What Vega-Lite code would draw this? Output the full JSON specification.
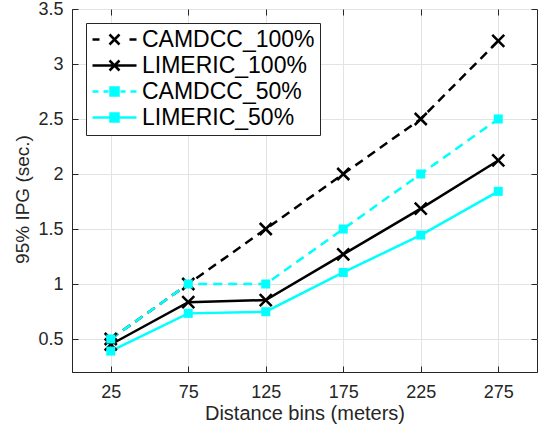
{
  "$schema": "https://vega.github.io/schema/vega-lite/v6.json",
  "width": 465,
  "height": 363,
  "autosize": "none",
  "padding": {"left": 72, "top": 9, "right": 2, "bottom": 59},
  "background": "white",
  "config": {
    "font": "Liberation Sans",
    "view": {"stroke": "#262626", "strokeWidth": 1},
    "axis": {
      "labelFont": "Liberation Sans",
      "titleFont": "Liberation Sans",
      "labelColor": "#262626",
      "titleColor": "#262626",
      "titleFontWeight": "normal",
      "domainColor": "#262626",
      "tickColor": "#262626",
      "gridColor": "#e3e3e3",
      "gridWidth": 1,
      "labelFontSize": 18,
      "titleFontSize": 19
    }
  },
  "data": {
    "values": [
      {"series": "CAMDCC_100%", "d": 25, "v": 0.5},
      {"series": "CAMDCC_100%", "d": 75, "v": 1.0},
      {"series": "CAMDCC_100%", "d": 125, "v": 1.5},
      {"series": "CAMDCC_100%", "d": 175, "v": 2.0},
      {"series": "CAMDCC_100%", "d": 225, "v": 2.5},
      {"series": "CAMDCC_100%", "d": 275, "v": 3.21},
      {"series": "LIMERIC_100%", "d": 25, "v": 0.45},
      {"series": "LIMERIC_100%", "d": 75, "v": 0.835},
      {"series": "LIMERIC_100%", "d": 125, "v": 0.854},
      {"series": "LIMERIC_100%", "d": 175, "v": 1.27},
      {"series": "LIMERIC_100%", "d": 225, "v": 1.685},
      {"series": "LIMERIC_100%", "d": 275, "v": 2.123},
      {"series": "CAMDCC_50%", "d": 25, "v": 0.5},
      {"series": "CAMDCC_50%", "d": 75, "v": 1.0},
      {"series": "CAMDCC_50%", "d": 125, "v": 1.0},
      {"series": "CAMDCC_50%", "d": 175, "v": 1.5},
      {"series": "CAMDCC_50%", "d": 225, "v": 2.0},
      {"series": "CAMDCC_50%", "d": 275, "v": 2.5},
      {"series": "LIMERIC_50%", "d": 25, "v": 0.39},
      {"series": "LIMERIC_50%", "d": 75, "v": 0.733},
      {"series": "LIMERIC_50%", "d": 125, "v": 0.748},
      {"series": "LIMERIC_50%", "d": 175, "v": 1.105},
      {"series": "LIMERIC_50%", "d": 225, "v": 1.445},
      {"series": "LIMERIC_50%", "d": 275, "v": 1.842}
    ]
  },
  "resolve": {"axis": {"x": "independent", "y": "independent"}},
  "layer": [
    {
      "transform": [{"filter": "indexof(datum.series, 'LIMERIC') >= 0"}],
      "mark": {"type": "line", "strokeWidth": 2.5, "strokeCap": "butt"},
      "encoding": {
        "x": {
          "field": "d", "type": "quantitative",
          "scale": {"domain": [0, 300], "nice": false, "zero": false},
          "axis": {
            "values": [25, 75, 125, 175, 225, 275],
            "title": "Distance bins (meters)",
            "titleFontSize": 20,
            "tickSize": -6,
            "labelPadding": 17,
            "titleY": 47,
            "titleBaseline": "alphabetic"
          }
        },
        "y": {
          "field": "v", "type": "quantitative",
          "scale": {"domain": [0.2, 3.5], "nice": false, "zero": false},
          "axis": {
            "values": [0.5, 1, 1.5, 2, 2.5, 3, 3.5],
            "format": "~g",
            "title": "95% IPG (sec.)",
            "tickSize": -6,
            "labelPadding": 15,
            "titleX": -44,
            "titleY": 190,
            "titleBaseline": "alphabetic"
          }
        },
        "color": {
          "field": "series", "type": "nominal",
          "scale": {
            "domain": ["CAMDCC_100%", "LIMERIC_100%", "CAMDCC_50%", "LIMERIC_50%"],
            "range": ["#000000", "#000000", "#00FFFF", "#00FFFF"]
          },
          "legend": {
            "title": null,
            "orient": "none",
            "legendX": 14,
            "legendY": 14,
            "direction": "vertical",
            "padding": 5,
            "strokeColor": "#262626",
            "fillColor": "white",
            "labelFont": "Liberation Sans",
            "labelFontSize": 23,
            "labelColor": "#000000",
            "labelLimit": 300,
            "symbolSize": 4,
            "symbolOffset": 12,
            "labelOffset": 16,
            "rowPadding": 2,
            "symbolStrokeWidth": 2.5,
            "encode": {
              "symbols": {
                "update": {
                  "shape": {"signal": "datum.value == 'CAMDCC_100%' ? 'M-22,0H-15M15,0H22M-5,-5L5,5M-5,5L5,-5' : datum.value == 'LIMERIC_100%' ? 'M-22,0H22M-5,-5L5,5M-5,5L5,-5' : datum.value == 'CAMDCC_50%' ? 'M-22,0H-16M-11,0H-6M6,0H11M16,0H22M-4,-4H4V4H-4Z' : 'M-22,0H22M-4,-4H4V4H-4Z'"},
                  "fill": {"signal": "indexof(datum.value, '50%') >= 0 ? '#00FFFF' : '#000000'"},
                  "stroke": {"signal": "indexof(datum.value, '50%') >= 0 ? '#00FFFF' : '#000000'"},
                  "strokeWidth": {"value": 2.5},
                  "opacity": {"value": 1}
                }
              }
            }
          }
        }
      }
    },
    {
      "transform": [{"filter": "indexof(datum.series, 'CAMDCC') >= 0"}],
      "mark": {"type": "line", "strokeWidth": 2.5, "strokeCap": "butt", "strokeDash": [9, 6]},
      "encoding": {
        "x": {"field": "d", "type": "quantitative", "axis": null},
        "y": {"field": "v", "type": "quantitative", "axis": null},
        "color": {"field": "series", "type": "nominal"}
      }
    },
    {
      "transform": [{"filter": "indexof(datum.series, '100%') >= 0"}],
      "mark": {"type": "point", "shape": "M-1,-1L1,1M-1,1L1,-1", "size": 144, "filled": false, "strokeWidth": 2.5, "opacity": 1},
      "encoding": {
        "x": {"field": "d", "type": "quantitative", "axis": {"orient": "top", "values": [25, 75, 125, 175, 225, 275], "labels": false, "title": null, "grid": false, "domain": false, "tickSize": -6}},
        "y": {"field": "v", "type": "quantitative", "axis": {"orient": "right", "values": [0.5, 1, 1.5, 2, 2.5, 3, 3.5], "labels": false, "title": null, "grid": false, "domain": false, "tickSize": -6}},
        "color": {"field": "series", "type": "nominal"}
      }
    },
    {
      "transform": [{"filter": "indexof(datum.series, '50%') >= 0 && indexof(datum.series, '100%') < 0"}],
      "mark": {"type": "point", "shape": "square", "size": 81, "filled": true, "opacity": 1},
      "encoding": {
        "x": {"field": "d", "type": "quantitative", "axis": null},
        "y": {"field": "v", "type": "quantitative", "axis": null},
        "color": {"field": "series", "type": "nominal"}
      }
    }
  ]
}
